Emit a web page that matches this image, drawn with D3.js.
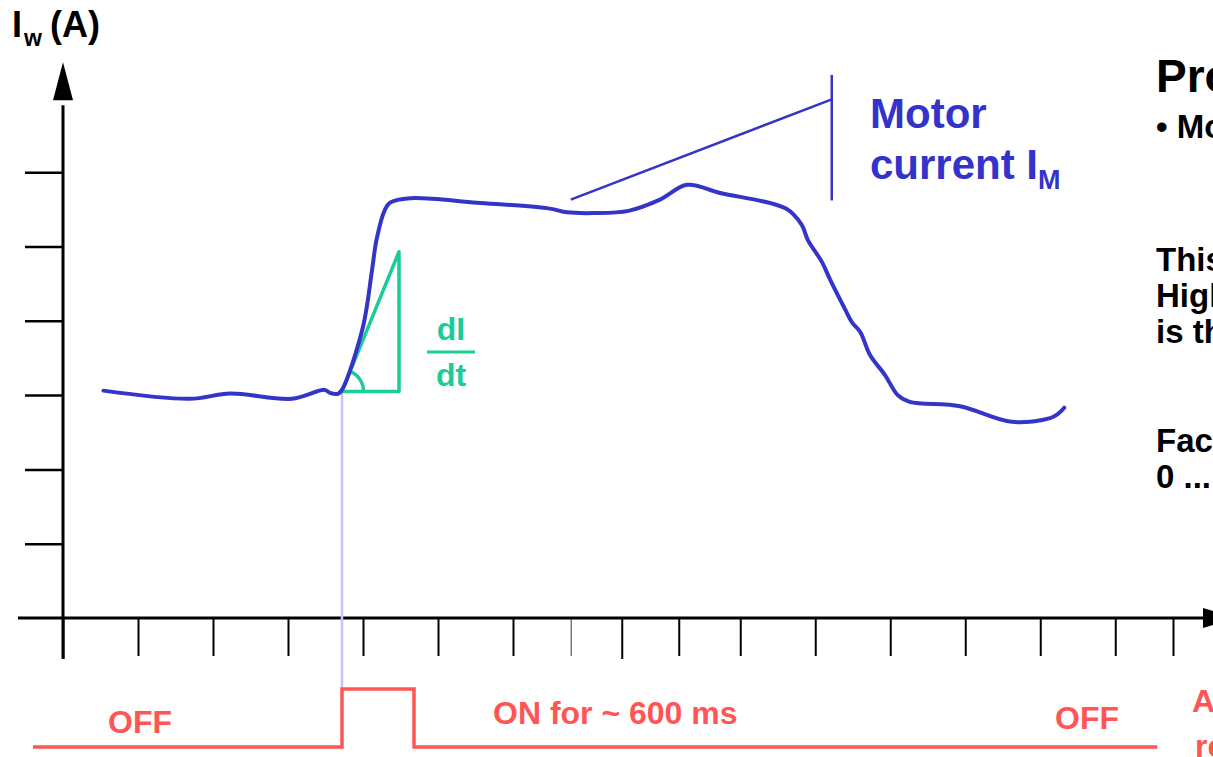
<!DOCTYPE html>
<html><head><meta charset="utf-8">
<script src="https://cdn.jsdelivr.net/npm/d3@7"></script>
<style>
html,body{margin:0;padding:0;background:#fff;overflow:hidden}
svg{display:block;font-family:"Liberation Sans",Arial,Helvetica,sans-serif;font-weight:bold}
</style>
</head><body>
<svg id="chart" width="1213" height="757"></svg>
<script>
// ---- data (time in ms, current in A) ----
const timeMs   = [54,169,223,305,349,356,367,373,400,412,418,429,436,463,552,649,672,707,754,796,832,876,964,985,993,1012,1023,1043,1052,1063,1076,1096,1113,1129,1196,1265,1316,1327,1335];
const currentA = [3.06,2.95,3.02,2.95,3.07,3.03,3.02,3.09,3.92,4.68,5.09,5.49,5.59,5.65,5.59,5.51,5.46,5.45,5.48,5.63,5.83,5.72,5.51,5.29,5.09,4.79,4.55,4.15,3.98,3.85,3.54,3.27,3.00,2.91,2.85,2.64,2.69,2.75,2.83];
const yTicks = [1,2,3,4,5,6];
const xTicks = [0,100,200,300,400,500,600,745,821,903,1003,1103,1203,1303,1403,1480];
const xTickThin = [677];
const xTickLong = [0,745];
// relay signal (0 = OFF, 1 = ON)
const relayTime  = [-40,372,468,1459];
const relayState = [0,1,0,0];
// dI/dt triangle
const slopeT = [372,448];
const slopeI = [3.05,4.93];
// motor current annotation leader
const leaderT = [677,1025];
const leaderI = [5.63,6.98];
const leaderBar = [5.62,7.31];

const blue = "#3434c8", green = "#1ccc98", red = "#ff5555";
const svg = d3.select("#chart");
const x = d3.scaleLinear().domain([0,1000]).range([63,813]);
const y = d3.scaleLinear().domain([0,6]).range([618,172.2]);
const ySig = d3.scaleLinear().domain([0,1]).range([747,689]);

// ---- axes ----
const gy = svg.append("g").attr("transform",`translate(${x(0)},0)`)
  .call(d3.axisLeft(y).tickValues(yTicks).tickSize(38).tickFormat(""));
gy.select(".domain").remove();
gy.selectAll(".tick line").attr("stroke","#000").attr("stroke-width",2.5);

const gx = svg.append("g").attr("transform",`translate(0,${y(0)})`)
  .call(d3.axisBottom(x).tickValues(xTicks).tickSize(38).tickFormat(""));
gx.select(".domain").remove();
gx.selectAll(".tick line").attr("stroke","#000").attr("stroke-width",2)
  .attr("y2", d => xTickLong.includes(d) ? 41 : 38);
const gx2 = svg.append("g").attr("transform",`translate(0,${y(0)})`)
  .call(d3.axisBottom(x).tickValues(xTickThin).tickSize(38).tickFormat(""));
gx2.select(".domain").remove();
gx2.selectAll(".tick line").attr("stroke","#666").attr("stroke-width",1.3);

// axis lines with arrow heads
svg.append("line").attr("x1",x(0)).attr("x2",x(0)).attr("y1",y(-0.55)).attr("y2",y(6.9))
  .attr("stroke","#000").attr("stroke-width",3);
svg.append("path").attr("d",`M${x(0)},${y(7.48)}L${x(0)-10},${y(6.97)}L${x(0)+10},${y(6.97)}Z`).attr("fill","#000");
svg.append("line").attr("x1",x(-60)).attr("x2",x(1525)).attr("y1",y(0)).attr("y2",y(0))
  .attr("stroke","#000").attr("stroke-width",3);
svg.append("path").attr("d",`M${x(1520)},${y(0)-10}L${x(1565)},${y(0)}L${x(1520)},${y(0)+10}Z`).attr("fill","#000");

// ---- relay signal ----
svg.append("line").attr("x1",x(372)).attr("x2",x(372)).attr("y1",y(3.05)).attr("y2",ySig(0.6))
  .attr("stroke","#c6c6f6").attr("stroke-width",2.5);
const sig = relayTime.map((t,i)=>[t,relayState[i]]);
svg.append("path").datum(sig)
  .attr("d", d3.line().x(d=>x(d[0])).y(d=>ySig(d[1])).curve(d3.curveStepAfter))
  .attr("fill","none").attr("stroke",red).attr("stroke-width",3.5);

// ---- dI/dt triangle ----
svg.append("path")
  .attr("d",`M${x(slopeT[0])},${y(slopeI[0])}L${x(slopeT[1])},${y(slopeI[0])}L${x(slopeT[1])},${y(slopeI[1])}Z`)
  .attr("fill","none").attr("stroke",green).attr("stroke-width",3.5).attr("stroke-linejoin","round");
const ang = Math.atan2(y(slopeI[0])-y(slopeI[1]), x(slopeT[1])-x(slopeT[0]));
svg.append("path")
  .attr("transform",`translate(${x(slopeT[0])},${y(slopeI[0])})`)
  .attr("d", d3.arc().innerRadius(21.5).outerRadius(21.5).startAngle(Math.PI/2 - ang).endAngle(Math.PI/2)())
  .attr("fill","none").attr("stroke",green).attr("stroke-width",3.5);

// ---- motor current curve ----
const cur = timeMs.map((t,i)=>[t,currentA[i]]);
svg.append("path").datum(cur)
  .attr("d", d3.line().x(d=>x(d[0])).y(d=>y(d[1])).curve(d3.curveCatmullRom.alpha(0.5)))
  .attr("fill","none").attr("stroke",blue).attr("stroke-width",4).attr("stroke-linejoin","round").attr("stroke-linecap","round");

// leader
svg.append("line").attr("x1",x(leaderT[0])).attr("y1",y(leaderI[0])).attr("x2",x(leaderT[1])).attr("y2",y(leaderI[1]))
  .attr("stroke",blue).attr("stroke-width",2.5);
svg.append("line").attr("x1",x(leaderT[1])).attr("x2",x(leaderT[1])).attr("y1",y(leaderBar[0])).attr("y2",y(leaderBar[1]))
  .attr("stroke",blue).attr("stroke-width",2.5);

// ---- texts ----
const yl = svg.append("text").attr("x",12).attr("y",37).attr("font-size",36).attr("fill","#000");
yl.append("tspan").text("I");
yl.append("tspan").attr("x",24).attr("y",46).attr("font-size",23).text("w");
yl.append("tspan").attr("x",50).attr("y",37).text("(A)");

const mt = svg.append("text").attr("fill","#3333cc").attr("font-size",42);
mt.append("tspan").attr("x",870).attr("y",128).text("Motor");
mt.append("tspan").attr("x",870).attr("y",179).text("current I");
mt.append("tspan").attr("y",189).attr("font-size",27).text("M");

const fr = svg.append("g").attr("fill",green).attr("font-size",32).attr("text-anchor","middle");
fr.append("text").attr("x",451).attr("y",340).text("dI");
fr.append("text").attr("x",451).attr("y",386).text("dt");
svg.append("line").attr("x1",427).attr("x2",475).attr("y1",352).attr("y2",352).attr("stroke",green).attr("stroke-width",3);

const rt = svg.append("g").attr("fill",red).attr("font-size",32);
rt.append("text").attr("x",108).attr("y",733).text("OFF");
rt.append("text").attr("x",493).attr("y",724).text("ON for ~ 600 ms");
rt.append("text").attr("x",1055).attr("y",729).text("OFF");
rt.append("text").attr("x",1192).attr("y",712).text("Actuator");
rt.append("text").attr("x",1195).attr("y",757).text("relay");

const side = svg.append("g").attr("fill","#000").attr("font-size",33);
side.append("text").attr("x",1156).attr("y",92).attr("font-size",46).text("Process");
side.append("text").attr("x",1156).attr("y",138).text("\u2022 Motor current");
side.append("text").attr("x",1156).attr("y",271).text("This");
side.append("text").attr("x",1156).attr("y",307).text("High");
side.append("text").attr("x",1156).attr("y",343).text("is the");
side.append("text").attr("x",1156).attr("y",452).text("Factor");
side.append("text").attr("x",1156).attr("y",488).text("0 ... 1");
</script>
</body></html>
